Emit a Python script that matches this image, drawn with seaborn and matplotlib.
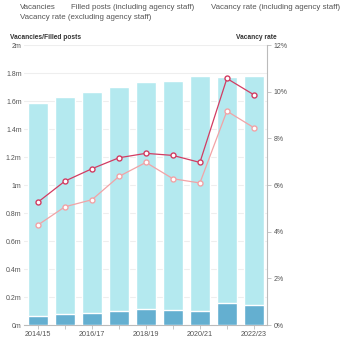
import matplotlib
matplotlib.use("Agg")
import matplotlib.pyplot as plt
import seaborn as sns
import pandas as pd
import numpy as np

years = ["2014/15", "2015/16", "2016/17", "2017/18", "2018/19",
         "2019/20", "2020/21", "2021/22", "2022/23"]
vacancies = [0.065, 0.079, 0.083, 0.100, 0.114, 0.105, 0.102, 0.155, 0.145]
filled = [1.518, 1.547, 1.581, 1.600, 1.622, 1.640, 1.679, 1.616, 1.634]
rate_incl = [5.27, 6.17, 6.70, 7.17, 7.36, 7.27, 6.97, 10.57, 9.87]
rate_excl = [4.29, 5.07, 5.37, 6.37, 6.97, 6.27, 6.09, 9.17, 8.46]
left_ticks = [0, 0.2, 0.4, 0.6, 0.8, 1.0, 1.2, 1.4, 1.6, 1.8, 2.0]
left_labels = ["0m", "0.2m", "0.4m", "0.6m", "0.8m", "1m", "1.2m", "1.4m", "1.6m", "1.8m", "2m"]
right_ticks = [0, 2, 4, 6, 8, 10, 12]
right_labels = ["0%", "2%", "4%", "6%", "8%", "10%", "12%"]
shown_xlabels = ["2014/15", "", "2016/17", "", "2018/19", "", "2020/21", "", "2022/23"]

df = pd.DataFrame({"year": years, "vac": vacancies, "filled": filled,
                   "incl": rate_incl, "excl": rate_excl})
df["total"] = df["vac"] + df["filled"]

sns.set_style("white")
plt.rcParams["font.family"] = ["Liberation Sans", "DejaVu Sans"]

fig = plt.figure(figsize=(3.45, 3.47), dpi=100)
ax = fig.add_axes([0.071, 0.0634, 0.704, 0.8066])

light = "#b4e9ef"
dark = "#64afd0"
red = "#d23c62"
pink = "#f2a3a6"
txt = "#555555"

sns.barplot(data=df, x="year", y="total", color=light, width=0.74,
            saturation=1, ax=ax, zorder=2)
sns.barplot(data=df, x="year", y="vac", color=dark, width=0.74,
            saturation=1, ax=ax, zorder=3)

ax.set_xlim(-0.5, 8.5)
ax.set_ylim(0, 2)
ax.set_yticks(left_ticks)
ax.set_yticklabels(left_labels)
ax.set_xticks(range(len(years)))
ax.set_xticklabels(shown_xlabels)
ax.set_xlabel("")
ax.set_ylabel("")
ax.grid(axis="y", color="#eeeeee", linewidth=0.8, zorder=0)
ax.set_axisbelow(True)
for s in ["top", "right", "left"]:
    ax.spines[s].set_visible(False)
ax.spines["bottom"].set_color("#bbbbbb")
ax.spines["bottom"].set_linewidth(0.8)
ax.tick_params(axis="y", length=0, labelsize=5, labelcolor=txt, pad=2)
ax.tick_params(axis="x", length=3, width=0.6, color="#bbbbbb",
               labelsize=5.2, labelcolor=txt, pad=1.5, bottom=True)

ax2 = ax.twinx()
sns.pointplot(data=df, x="year", y="excl", color=pink, markers="o",
              linewidth=0.9, markersize=3.6, ax=ax2,
              markerfacecolor="white", markeredgewidth=1.0, markeredgecolor=pink)
sns.pointplot(data=df, x="year", y="incl", color=red, markers="o",
              linewidth=0.9, markersize=3.6, ax=ax2,
              markerfacecolor="white", markeredgewidth=1.0, markeredgecolor=red)
ax2.set_xlim(-0.5, 8.5)
ax2.set_ylim(0, 12)
ax2.set_yticks(right_ticks)
ax2.set_yticklabels(right_labels)
ax2.set_ylabel("")
ax2.set_xlabel("")
for s in ["top", "left", "bottom"]:
    ax2.spines[s].set_visible(False)
ax2.spines["right"].set_visible(True)
ax2.spines["right"].set_color("#bbbbbb")
ax2.spines["right"].set_linewidth(0.8)
ax2.tick_params(axis="y", right=True, length=3, width=0.6, color="#bbbbbb",
                labelsize=5, labelcolor=txt, pad=1.5)
ax2.grid(False)

fig.text(0.029, 0.893, "Vacancies/Filled posts", fontsize=4.8, color="#333333",
         fontweight="bold", ha="left", va="center")
fig.text(0.803, 0.893, "Vacancy rate", fontsize=4.8, color="#333333",
         fontweight="bold", ha="right", va="center")

fs = 5.7
fig.text(0.058, 0.977, "Vacancies", fontsize=fs, color=txt, ha="left", va="center")
fig.text(0.206, 0.977, "Filled posts (including agency staff)", fontsize=fs,
         color=txt, ha="left", va="center")
fig.text(0.612, 0.977, "Vacancy rate (including agency staff)", fontsize=fs,
         color=txt, ha="left", va="center")
fig.text(0.058, 0.950, "Vacancy rate (excluding agency staff)", fontsize=fs,
         color=txt, ha="left", va="center")

fig.savefig("out.png", dpi=100, facecolor="white")
